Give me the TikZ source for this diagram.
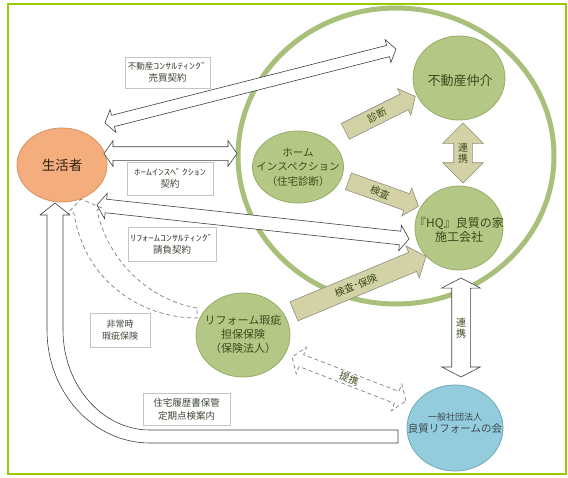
\documentclass[tikz,border=0pt]{standalone}
\usepackage{fontspec}
\setmainfont{Noto Sans CJK JP}
\usetikzlibrary{shapes.geometric,shapes.arrows,calc}
\definecolor{framegreen}{HTML}{99CC00}
\definecolor{ringgreen}{HTML}{A8C07A}
\definecolor{gfill}{HTML}{B4C784}
\definecolor{gborder}{HTML}{97AD68}
\definecolor{ofill}{HTML}{F4AE7E}
\definecolor{oborder}{HTML}{D8935F}
\definecolor{bfill}{HTML}{93CDDD}
\definecolor{bborder}{HTML}{6FA7B8}
\definecolor{khaki}{HTML}{D3D1A6}
\definecolor{khakiborder}{HTML}{8E8E78}
\definecolor{tgreen}{HTML}{3A4C1C}
\definecolor{tgray}{HTML}{3C4636}
\definecolor{boxgray}{HTML}{C4C4C4}
\definecolor{arrowgray}{HTML}{404040}
\newcommand\hw[1]{\scalebox{1.4}[1]{#1}}
\newcommand\blkarrow[5][]{%
  \path let \p1=($(#3)-(#2)$), \n1={atan2(\y1,\x1)}, \n2={veclen(\x1,\y1)} in
    node[#1, rotate=\n1, minimum height=\n2] at ($(#2)!0.5!(#3)$) {}
    node[#4, rotate=\n1] at ($(#2)!0.5!(#3)$) {#5};}
\tikzset{
  frame/.style={draw=framegreen, line width=2pt},
  ring/.style={draw=ringgreen, line width=5pt},
  gcirc/.style={ellipse, draw=gborder, fill=gfill, line width=0.8pt, inner sep=0pt},
  ocirc/.style={ellipse, draw=oborder, fill=ofill, line width=0.8pt, inner sep=0pt},
  bcirc/.style={ellipse, draw=bborder, fill=bfill, line width=0.8pt, inner sep=0pt},
  ctext/.style={align=center, text=tgreen, inner sep=0pt},
  lbox/.style={draw=boxgray, fill=white, line width=0.7pt, align=center, text=tgray, inner sep=0pt, font=\fontsize{8.5}{12}\selectfont},
  wdarrow/.style={double arrow, draw=arrowgray, fill=white, line width=0.6pt, inner xsep=0pt, double arrow tip angle=110},
  tdarrow/.style={double arrow, draw=gray, dash pattern=on 4pt off 3pt, fill=white, line width=0.7pt, inner xsep=0pt, double arrow tip angle=110},
  kdarrow/.style={double arrow, draw=khakiborder, fill=khaki, line width=0.6pt, inner xsep=0pt, double arrow tip angle=90},
  ksarrow/.style={single arrow, draw=khakiborder, fill=khaki, line width=0.6pt, inner xsep=0pt, single arrow tip angle=100},
  alabel/.style={text=tgreen, font=\fontsize{10}{12}\selectfont, inner sep=0pt},
  curvearrow/.style={draw=arrowgray, fill=white, line width=0.6pt, line join=round},
  dasharrow/.style={draw=gray, dash pattern=on 4pt off 3pt, line width=0.7pt}
}
\begin{document}
\begin{tikzpicture}[x=1pt,y=-1pt]
\useasboundingbox (0,0) rectangle (568,477);
\fill[white] (0,0) rectangle (568,477);
\draw[frame] (8,4) rectangle (566,474);
% big ring
\draw[ring] (396,156) ellipse [x radius=158pt, y radius=148pt];
% circles
\node[ocirc, minimum width=90pt, minimum height=74pt] (seikatsu) at (62,165) {};
\node[ctext, text=black!75!brown, font=\fontsize{13.5}{16}\selectfont] (seikatsuT) at (seikatsu) {生活者};
\node[gcirc, minimum width=91pt, minimum height=72pt] (home) at (298,167) {};
\node[ctext, font=\fontsize{10.5}{14.5}\selectfont] (homeT) at (home) {ホーム\\インスペクション\\（住宅診断）};
\node[gcirc, minimum width=92pt, minimum height=84pt] (fudosan) at (459,78) {};
\node[ctext, font=\fontsize{13}{15}\selectfont] (fudosanT) at (460,81) {不動産仲介};
\node[gcirc, minimum width=88pt, minimum height=84pt] (hq) at (459,228) {};
\node[ctext, font=\fontsize{12}{14.5}\selectfont] (hqT) at (459,230) {『HQ』良質の家\\施工会社};
\node[gcirc, minimum width=94pt, minimum height=84pt] (kashi) at (243,335) {};
\node[ctext, font=\fontsize{11}{14}\selectfont] (kashiT) at (243,334) {リフォーム瑕疵\\担保保険\\（保険法人）};
\node[bcirc, minimum width=96pt, minimum height=86pt] (ryoshitsu) at (455,428) {};
\node[ctext, text=black!80!cyan, align=center] (ryoshitsuT) at (455,423) {{\fontsize{9}{12}\selectfont 一般社団法人}\\{\fontsize{10.5}{12}\selectfont 良質リフォームの会}};
% label boxes
\node[lbox, minimum width=85pt, minimum height=31pt] (b1) at (167.5,72.5) {不動産\hw{ｺﾝｻﾙﾃｨﾝｸﾞ}\\{\fontsize{9.5}{12}\selectfont 売買契約}};
\node[lbox, minimum width=86pt, minimum height=33pt] (b2) at (170,178.5) {\hw{ﾎｰﾑｲﾝｽﾍﾟｸｼｮﾝ}\\{\fontsize{9.5}{12}\selectfont 契約}};
\node[lbox, minimum width=88pt, minimum height=34pt] (b3) at (172,244) {\hw{ﾘﾌｫｰﾑｺﾝｻﾙﾃｨﾝｸﾞ}\\{\fontsize{9.5}{12}\selectfont 請負契約}};
\node[lbox, minimum width=60pt, minimum height=34pt, font=\fontsize{9}{12.5}\selectfont] (b4) at (120,330) {非常時\\瑕疵保険};
\node[lbox, minimum width=87pt, minimum height=32pt, font=\fontsize{9.5}{13}\selectfont] (b5) at (186.5,409) {住宅履歴書保管\\定期点検案内};
% coordinates for connectors
\coordinate (a1s) at (105,123); \coordinate (a1e) at (396,49);
\coordinate (a2s) at (104,153.5); \coordinate (a2e) at (237,153.5);
\coordinate (a3s) at (97,205); \coordinate (a3e) at (409,239);
\coordinate (shs) at (342,133); \coordinate (she) at (412,98);
\coordinate (kss) at (345,180); \coordinate (kse) at (415,205);
\coordinate (khs) at (290,313); \coordinate (khe) at (422,258);
\coordinate (r1s) at (463,123); \coordinate (r1e) at (463,183);
\coordinate (r2s) at (461,278); \coordinate (r2e) at (461,377);
\coordinate (tks) at (292,357); \coordinate (tke) at (406,401);
% white contract arrows
\blkarrow[wdarrow, inner ysep=5.5pt, double arrow head extend=6pt]{a1s}{a1e}{alabel}{}
\blkarrow[wdarrow, inner ysep=6.5pt, double arrow head extend=6pt]{a2s}{a2e}{alabel}{}
\blkarrow[wdarrow, inner ysep=6.5pt, double arrow head extend=6pt]{a3s}{a3e}{alabel}{}
% khaki arrows
\blkarrow[ksarrow, inner ysep=8.5pt, single arrow head extend=6pt]{shs}{she}{alabel}{診断}
\blkarrow[ksarrow, inner ysep=8.5pt, single arrow head extend=6pt]{kss}{kse}{alabel}{検査}
\blkarrow[ksarrow, inner ysep=10pt, single arrow head extend=7pt]{khs}{khe}{alabel}{検査･保険}
\blkarrow[kdarrow, inner ysep=9pt, double arrow head extend=11pt]{r1s}{r1e}{alabel}{}
\node[alabel, align=center, font=\fontsize{10}{11}\selectfont] (r1T) at (463,153) {連\\携};
\blkarrow[wdarrow, inner ysep=9pt, double arrow head extend=10pt, double arrow tip angle=125]{r2s}{r2e}{alabel}{}
\node[alabel, align=center, font=\fontsize{10}{11}\selectfont] (r2T) at (461,328) {連\\携};
\blkarrow[tdarrow, inner ysep=6pt, double arrow head extend=8pt]{tks}{tke}{alabel}{提携}
% big curved arrow from 良質リフォームの会 to 生活者
\coordinate (cvEnd) at (398,436.5);
\coordinate (cvTip) at (55,203);
\draw[curvearrow] (cvEnd |- 0,430) -- (150,430) .. controls (102,430) and (63,385) .. (63,330) -- (63,215) -- (70,215) -- (cvTip) -- (40,215) -- (47,215) -- (47,330) .. controls (47,392) and (93,443) .. (150,443) -- (cvEnd |- 0,443) -- cycle;
% dashed curved arrow from 瑕疵保険 to 生活者
\coordinate (dTail) at (197,313);
\coordinate (dTip) at (81,199);
\draw[dasharrow] (197,308) .. controls (150,300) and (108,262) .. (97,210) -- (102,208) -- (dTip) -- (67,214) -- (74,213) .. controls (84,280) and (140,318) .. (197,318) -- cycle;
\end{tikzpicture}
\end{document}
